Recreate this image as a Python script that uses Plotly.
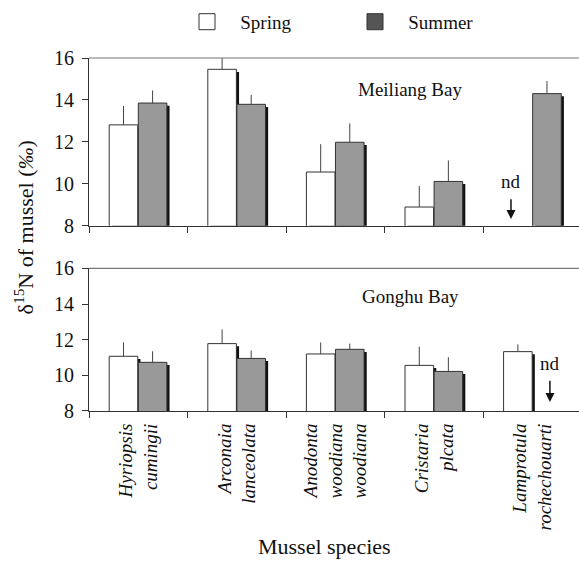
import plotly.graph_objects as go
from plotly.subplots import make_subplots

species = ["Hyriopsis cumingii", "Arconaia lanceolata", "Anodonta woodiana woodiana",
           "Cristaria plcata", "Lamprotula rochechouarti"]
tick_text = ["<i>Hyriopsis<br>cumingii</i>", "<i>Arconaia<br>lanceolata</i>",
             "<i>Anodonta<br>woodiana<br>woodiana</i>", "<i>Cristaria<br>plcata</i>",
             "<i>Lamprotula<br>rochechouarti</i>"]

# Meiliang Bay
mei_spring = [12.81, 15.46, 10.56, 8.89, None]
mei_spring_err = [0.9, 0.6, 1.33, 1.0, 0]
mei_summer = [13.85, 13.79, 11.98, 10.11, 14.30]
mei_summer_err = [0.6, 0.45, 0.9, 1.0, 0.6]

# Gonghu Bay
gon_spring = [11.07, 11.78, 11.20, 10.56, 11.33]
gon_spring_err = [0.78, 0.8, 0.65, 1.05, 0.41]
gon_summer = [10.73, 10.95, 11.46, 10.22, None]
gon_summer_err = [0.62, 0.45, 0.32, 0.8, 0]

y_ticks = [8, 10, 12, 14, 16]

FONT = "Liberation Serif, Times New Roman, serif"
EDGE = "#333333"
SHADOW = "#111111"
SPRING_FILL = "#ffffff"
SUMMER_FILL = "#999999"
BW = 0.29
SPRING_OFF = -0.295
SUMMER_OFF = 0.0
SH_DX = 0.027

fig = make_subplots(rows=2, cols=1)


def add_panel(row, spring, spring_err, summer, summer_err, sh_dy):
    # shadows
    for vals, off in ((spring, SPRING_OFF), (summer, SUMMER_OFF)):
        fig.add_trace(go.Bar(
            x=species, y=vals, base=-sh_dy, offset=off + SH_DX, width=BW,
            marker=dict(color=SHADOW, line=dict(width=0)),
            showlegend=False, hoverinfo="skip"), row=row, col=1)
    for vals, errs, off, fill, name in ((spring, spring_err, SPRING_OFF, SPRING_FILL, "Spring"),
                                        (summer, summer_err, SUMMER_OFF, SUMMER_FILL, "Summer")):
        fig.add_trace(go.Bar(
            x=species, y=vals, offset=off, width=BW, name=name,
            marker=dict(color=fill, line=dict(color=EDGE, width=1)),
            error_y=dict(type="data", array=errs, arrayminus=[0] * len(errs),
                         symmetric=False, width=0, thickness=1, color="#444444"),
            showlegend=False), row=row, col=1)


add_panel(1, mei_spring, mei_spring_err, mei_summer, mei_summer_err, 0.125)
add_panel(2, gon_spring, gon_spring_err, gon_summer, gon_summer_err, 0.146)

# legend swatches
fig.add_trace(go.Scatter(x=[None], y=[None], mode="markers", name="\u2002\u2009Spring",
                         marker=dict(symbol="square", size=16, color="#ffffff",
                                     line=dict(color=EDGE, width=1))), row=1, col=1)
fig.add_trace(go.Scatter(x=[None], y=[None], mode="markers", name="\u2002\u2009Summer",
                         marker=dict(symbol="square", size=16, color="#555555",
                                     line=dict(color=EDGE, width=1))), row=1, col=1)

xcommon = dict(type="category", categoryorder="array", categoryarray=species,
               range=[-0.5, 4.47], ticks="outside", tickson="boundaries",
               ticklen=6, tickcolor=EDGE, showline=True, linecolor=EDGE, linewidth=1,
               showgrid=False, zeroline=False, fixedrange=True)
ycommon = dict(range=[8, 16], tickvals=y_ticks, ticks="outside", ticklen=6,
               tickcolor=EDGE, showline=True, linecolor=EDGE, linewidth=1,
               showgrid=False, zeroline=False, tickfont=dict(family=FONT, size=20, color="#111"),
               ticklabelstandoff=4)

fig.update_layout(
    xaxis=dict(**xcommon, domain=[0, 1], showticklabels=False),
    xaxis2=dict(**xcommon, domain=[0, 1], showticklabels=True, tickangle=-90,
                tickvals=species, ticktext=tick_text,
                tickfont=dict(family=FONT, size=19, color="#111"),
                ticklabelstandoff=4),
    yaxis=dict(**ycommon, domain=[0.525, 1]),
    yaxis2=dict(**ycommon, domain=[0, 0.404]),
    barmode="overlay",
    width=579, height=573,
    margin=dict(l=89, r=0, t=58, b=162),
    paper_bgcolor="white", plot_bgcolor="white",
    font=dict(family=FONT, color="#111"),
    showlegend=True,
    legend=dict(orientation="h", x=0.2, xanchor="left", y=0.995, yanchor="top",
                yref="container", entrywidth=123, entrywidthmode="pixels",
                font=dict(family=FONT, size=19, color="#111"),
                bgcolor="rgba(0,0,0,0)"),
)

# top frame lines
for yr, xr in (("y domain", "x domain"), ("y2 domain", "x2 domain")):
    fig.add_shape(type="line", xref=xr, yref=yr, x0=0, x1=1, y0=1, y1=1,
                  line=dict(color="#777777", width=1.2))

ann = []
ann.append(dict(text="Meiliang Bay", x=2.76, y=14.49, xref="x", yref="y", showarrow=False,
                font=dict(family=FONT, size=19, color="#111")))
ann.append(dict(text="Gonghu Bay", x=2.76, y=14.40, xref="x2", yref="y2", showarrow=False,
                font=dict(family=FONT, size=19, color="#111")))
# nd markers
ann.append(dict(text="nd", x=3.78, y=10.10, xref="x", yref="y", showarrow=False,
                font=dict(family=FONT, size=19, color="#111")))
ann.append(dict(text="", x=3.78, y=8.32, ax=3.78, ay=9.33, xref="x", yref="y",
                axref="x", ayref="y", showarrow=True, arrowhead=2, arrowsize=1.2,
                arrowwidth=1.5, arrowcolor="#111"))
ann.append(dict(text="nd", x=4.175, y=10.66, xref="x2", yref="y2", showarrow=False,
                font=dict(family=FONT, size=19, color="#111")))
ann.append(dict(text="", x=4.175, y=8.5, ax=4.175, ay=9.78, xref="x2", yref="y2",
                axref="x2", ayref="y2", showarrow=True, arrowhead=2, arrowsize=1.2,
                arrowwidth=1.5, arrowcolor="#111"))
# axis titles
ann.append(dict(text="δ<sup>15</sup>N of mussel (<i>‰</i>)", xref="paper", yref="paper",
                x=0, y=0.52, xshift=-81, textangle=-90, showarrow=False,
                font=dict(family=FONT, size=22, color="#111")))
ann.append(dict(text="Mussel species", xref="paper", yref="paper", x=0.48, y=0,
                yshift=-150, showarrow=False,
                font=dict(family=FONT, size=22, color="#111")))
fig.update_layout(annotations=ann)

fig.write_html("out.html")
